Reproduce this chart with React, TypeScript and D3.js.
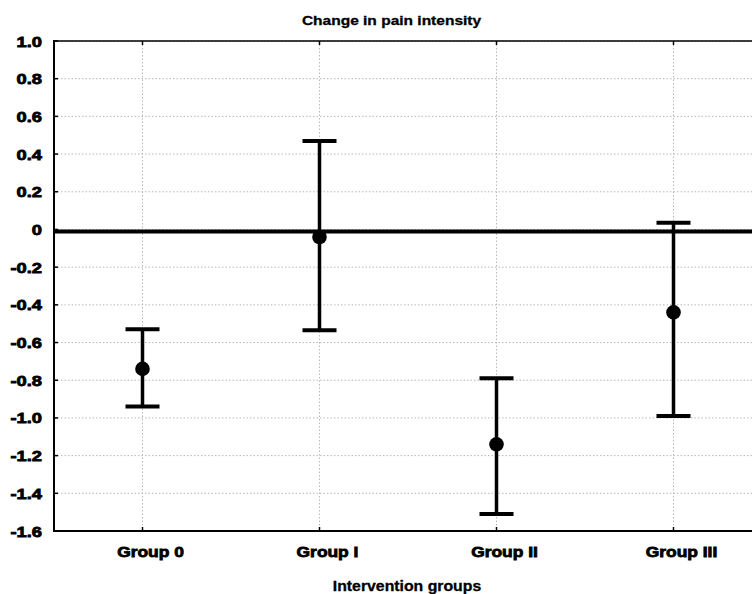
import React from "react";
import * as d3 from "d3";

const groups = ["Group 0", "Group I", "Group II", "Group III"];
const means = [-0.74, -0.04, -1.14, -0.44];
const upper = [-0.53, 0.47, -0.79, 0.035];
const lower = [-0.94, -0.535, -1.51, -0.99];
const yTicks = [1.0, 0.8, 0.6, 0.4, 0.2, 0, -0.2, -0.4, -0.6, -0.8, -1.0, -1.2, -1.4, -1.6];
const yTickLabels = ["1.0", "0.8", "0.6", "0.4", "0.2", "0", "-0.2", "-0.4", "-0.6", "-0.8", "-1.0", "-1.2", "-1.4", "-1.6"];
const title = "Change in pain intensity";
const xTitle = "Intervention groups";

const W = 752, H = 594;
const left = 54, top = 41, bottom = 531, plotRight = 762;
const FONT = "'Liberation Sans', Arial, sans-serif";

export default function App() {
  const x = d3.scaleBand<string>().domain(groups).range([left, plotRight]).padding(0);
  const y = d3.scaleLinear().domain([-1.6, 1.0]).range([bottom, top]);
  const cx = (g: string) => (x(g) as number) + x.bandwidth() / 2;
  const capHalf = 17;

  return (
    <svg width={W} height={H} style={{ position: "absolute", left: 0, top: 0, background: "#fff" }}>
      <rect x={0} y={0} width={W} height={H} fill="#fff" />
      {/* grid */}
      {yTicks.map((t, i) => (
        <line key={"gy" + i} x1={left} x2={W} y1={y(t)} y2={y(t)} stroke="#b8b8b8" strokeWidth={1} strokeDasharray="1.5,2" />
      ))}
      {groups.map((g) => (
        <line key={"gx" + g} x1={cx(g)} x2={cx(g)} y1={top} y2={bottom} stroke="#b8b8b8" strokeWidth={1} strokeDasharray="1.5,2" />
      ))}
      {/* zero reference line */}
      <line x1={left} x2={W} y1={y(0) + 2} y2={y(0) + 2} stroke="#000" strokeWidth={4} />
      {/* frame */}
      <line x1={left} x2={W} y1={top} y2={top} stroke="#000" strokeWidth={1.6} />
      <line x1={left} x2={W} y1={bottom} y2={bottom} stroke="#000" strokeWidth={2} />
      <line x1={left} x2={left} y1={top - 1} y2={bottom + 1} stroke="#000" strokeWidth={2} />
      {/* ticks */}
      {yTicks.map((t, i) => (
        <line key={"ty" + i} x1={left} x2={left + 4} y1={y(t)} y2={y(t)} stroke="#000" strokeWidth={1.5} />
      ))}
      {groups.map((g) => (
        <g key={"tx" + g}>
          <line x1={cx(g)} x2={cx(g)} y1={bottom} y2={bottom - 4} stroke="#000" strokeWidth={1.5} />
          <line x1={cx(g)} x2={cx(g)} y1={top} y2={top + 4} stroke="#000" strokeWidth={1.5} />
        </g>
      ))}
      {/* y tick labels */}
      {yTicks.map((t, i) => (
        <text
          key={"yl" + i}
          transform={`translate(42,${y(t) + 5.5}) scale(1.22,1)`}
          textAnchor="end"
          fontFamily={FONT}
          fontWeight="bold"
          fontSize={15}
          stroke="#000"
          strokeWidth={0.8}
          fill="#000"
        >
          {yTickLabels[i]}
        </text>
      ))}
      {/* x tick labels */}
      {groups.map((g) => (
        <text
          key={"xl" + g}
          transform={`translate(${cx(g) + 8},557) scale(1.16,1)`}
          textAnchor="middle"
          fontFamily={FONT}
          fontWeight="bold"
          fontSize={15}
          stroke="#000"
          strokeWidth={0.8}
          fill="#000"
        >
          {g}
        </text>
      ))}
      {/* error bars */}
      {groups.map((g, i) => (
        <g key={"eb" + g}>
          <line x1={cx(g)} x2={cx(g)} y1={y(upper[i])} y2={y(lower[i])} stroke="#000" strokeWidth={3.5} />
          <line x1={cx(g) - capHalf} x2={cx(g) + capHalf} y1={y(upper[i])} y2={y(upper[i])} stroke="#000" strokeWidth={4} />
          <line x1={cx(g) - capHalf} x2={cx(g) + capHalf} y1={y(lower[i])} y2={y(lower[i])} stroke="#000" strokeWidth={4} />
          <circle cx={cx(g)} cy={y(means[i])} r={7.3} fill="#000" />
        </g>
      ))}
      {/* titles */}
      <text
        transform={`translate(391.5,25) scale(1.15,1)`}
        textAnchor="middle"
        fontFamily={FONT}
        fontWeight="bold"
        fontSize={13.5}
        stroke="#000"
        strokeWidth={0.3}
        fill="#000"
      >
        {title}
      </text>
      <text
        transform={`translate(407,591) scale(1.13,1)`}
        textAnchor="middle"
        fontFamily={FONT}
        fontWeight="bold"
        fontSize={14}
        stroke="#000"
        strokeWidth={0.3}
        fill="#000"
      >
        {xTitle}
      </text>
    </svg>
  );
}
